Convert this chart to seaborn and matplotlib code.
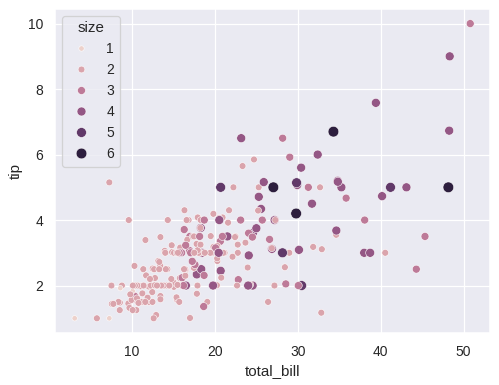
import numpy as np
import pandas as pd
import matplotlib
matplotlib.use("Agg")
import matplotlib.pyplot as plt
import seaborn as sns

# --- datos (tips) ---
total_bill = [
    16.99, 10.34, 21.01, 23.68, 24.59, 25.29, 8.77, 26.88, 15.04, 14.78,
    10.27, 35.26, 15.42, 18.43, 14.83, 21.58, 10.33, 16.29, 16.97, 20.65,
    17.92, 20.29, 15.77, 39.42, 19.82, 17.81, 13.37, 12.69, 21.70, 19.65,
    9.55, 18.35, 15.06, 20.69, 17.78, 24.06, 16.31, 16.93, 18.69, 31.27,
    16.04, 17.46, 13.94, 9.68, 30.40, 18.29, 22.23, 32.40, 28.55, 18.04,
    12.54, 10.29, 34.81, 9.94, 25.56, 19.49, 38.01, 26.41, 11.24, 48.27,
    20.29, 13.81, 11.02, 18.29, 17.59, 20.08, 16.45, 3.07, 20.23, 15.01,
    12.02, 17.07, 26.86, 25.28, 14.73, 10.51, 17.92, 27.20, 22.76, 17.29,
    19.44, 16.66, 10.07, 32.68, 15.98, 34.83, 13.03, 18.28, 24.71, 21.16,
    28.97, 22.49, 5.75, 16.32, 22.75, 40.17, 27.28, 12.03, 21.01, 12.46,
    11.35, 15.38, 44.30, 22.42, 20.92, 15.36, 20.49, 25.21, 18.24, 14.31,
    14.00, 7.25, 38.07, 23.95, 25.71, 17.31, 29.93, 10.65, 12.43, 24.08,
    11.69, 13.42, 14.26, 15.95, 12.48, 29.80, 8.52, 14.52, 11.38, 22.82,
    19.08, 20.27, 11.17, 12.26, 18.26, 8.51, 10.33, 14.15, 16.00, 13.16,
    17.47, 34.30, 41.19, 27.05, 16.43, 8.35, 18.64, 11.87, 9.78, 7.51,
    14.07, 13.13, 17.26, 24.55, 19.77, 29.85, 48.17, 25.00, 13.39, 16.49,
    21.50, 12.66, 16.21, 13.81, 17.51, 24.52, 20.76, 31.71, 10.59, 10.63,
    50.81, 15.81, 7.25, 31.85, 16.82, 32.90, 17.89, 14.48, 9.60, 34.63,
    34.65, 23.33, 45.35, 23.17, 40.55, 20.69, 20.90, 30.46, 18.15, 23.10,
    15.69, 19.81, 28.44, 15.48, 16.58, 7.56, 10.34, 43.11, 13.00, 13.51,
    18.71, 12.74, 13.00, 16.40, 20.53, 16.47, 26.59, 38.73, 24.27, 12.76,
    30.06, 25.89, 48.33, 13.27, 28.17, 12.90, 28.15, 11.59, 7.74, 30.14,
    12.16, 13.42, 8.58, 15.98, 13.42, 16.27, 10.09, 20.45, 13.28, 22.12,
    24.01, 15.69, 11.61, 10.77, 15.53, 10.07, 12.60, 32.83, 35.83, 29.03,
    27.18, 22.67, 17.82, 18.78,
]

tip = [
    1.01, 1.66, 3.50, 3.31, 3.61, 4.71, 2.00, 3.12, 1.96, 3.23,
    1.71, 5.00, 1.57, 3.00, 3.02, 3.92, 1.67, 3.71, 3.50, 3.35,
    4.08, 2.75, 2.23, 7.58, 3.18, 2.34, 2.00, 2.00, 4.30, 3.00,
    1.45, 2.50, 3.00, 2.45, 3.27, 3.60, 2.00, 3.07, 2.31, 5.00,
    2.24, 2.54, 3.06, 1.32, 5.60, 3.00, 5.00, 6.00, 2.05, 3.00,
    2.50, 2.60, 5.20, 1.56, 4.34, 3.51, 3.00, 1.50, 1.76, 6.73,
    3.21, 2.00, 1.98, 3.76, 2.64, 3.15, 2.47, 1.00, 2.01, 2.09,
    1.97, 3.00, 3.14, 5.00, 2.20, 1.25, 3.08, 4.00, 3.00, 2.71,
    3.00, 3.40, 1.83, 5.00, 2.03, 5.17, 2.00, 4.00, 5.85, 3.00,
    3.00, 3.50, 1.00, 4.30, 3.25, 4.73, 4.00, 1.50, 3.00, 1.50,
    2.50, 3.00, 2.50, 3.48, 4.08, 1.64, 4.06, 4.29, 3.76, 4.00,
    3.00, 1.00, 4.00, 2.55, 4.00, 3.50, 5.07, 1.50, 1.80, 2.92,
    2.31, 1.68, 2.50, 2.00, 2.52, 4.20, 1.48, 2.00, 2.00, 2.18,
    1.50, 2.83, 1.50, 2.00, 3.25, 1.25, 2.00, 2.00, 2.00, 2.75,
    3.50, 6.70, 5.00, 5.00, 2.30, 1.50, 1.36, 1.63, 1.73, 2.00,
    2.50, 2.00, 2.74, 2.00, 2.00, 5.14, 5.00, 3.75, 2.61, 2.00,
    3.50, 2.50, 2.00, 2.00, 3.00, 3.48, 2.24, 4.50, 1.61, 2.00,
    10.00, 3.16, 5.15, 3.18, 4.00, 3.11, 2.00, 2.00, 4.00, 3.55,
    3.68, 5.65, 3.50, 6.50, 3.00, 5.00, 3.50, 2.00, 3.50, 4.00,
    1.50, 4.19, 2.56, 2.02, 4.00, 1.44, 2.00, 5.00, 2.00, 2.00,
    4.00, 2.01, 2.00, 2.50, 4.00, 3.23, 3.41, 3.00, 2.03, 2.23,
    2.00, 5.16, 9.00, 2.50, 6.50, 1.10, 3.00, 1.50, 1.44, 3.09,
    2.20, 3.48, 1.92, 3.00, 1.58, 2.50, 2.00, 3.00, 2.72, 2.88,
    2.00, 3.00, 3.39, 1.47, 3.00, 1.25, 1.00, 1.17, 4.67, 5.92,
    2.00, 2.00, 1.75, 3.00,
]

size = [
    2, 3, 3, 2, 4, 4, 2, 4, 2, 2,
    2, 4, 2, 4, 2, 2, 3, 3, 3, 3,
    2, 2, 2, 4, 2, 4, 2, 2, 2, 2,
    2, 4, 2, 4, 2, 3, 3, 3, 3, 3,
    3, 2, 2, 2, 4, 2, 2, 4, 3, 2,
    2, 2, 4, 2, 4, 2, 4, 2, 2, 4,
    2, 2, 2, 4, 3, 3, 2, 1, 2, 2,
    2, 3, 2, 2, 2, 2, 2, 4, 2, 2,
    2, 2, 1, 2, 2, 4, 2, 2, 2, 2,
    2, 2, 2, 2, 2, 4, 2, 2, 2, 2,
    2, 2, 3, 2, 2, 2, 2, 2, 2, 2,
    2, 1, 3, 2, 3, 2, 4, 2, 2, 4,
    2, 2, 2, 2, 2, 6, 2, 2, 2, 3,
    2, 2, 2, 2, 2, 2, 2, 2, 2, 2,
    2, 6, 5, 6, 2, 2, 3, 2, 2, 2,
    2, 2, 3, 4, 4, 5, 6, 4, 2, 4,
    4, 2, 3, 2, 2, 3, 2, 4, 2, 2,
    3, 2, 2, 2, 2, 2, 2, 2, 2, 2,
    4, 2, 3, 4, 2, 5, 3, 5, 3, 3,
    2, 2, 2, 2, 2, 2, 2, 4, 2, 2,
    3, 2, 2, 2, 4, 3, 3, 4, 2, 2,
    3, 4, 4, 2, 3, 2, 5, 2, 2, 4,
    2, 2, 1, 3, 2, 2, 2, 4, 2, 2,
    4, 3, 2, 2, 2, 2, 2, 2, 3, 3,
    2, 2, 2, 2,
]

df = pd.DataFrame({"total_bill": total_bill, "tip": tip, "size": size})

sns.set_theme()
plt.rcParams["font.family"] = ["Liberation Sans", "DejaVu Sans"]

# la referencia parece renderizada a ~91 dpi
DPI = 91
fig, ax = plt.subplots(figsize=(499 / DPI, 385 / DPI), dpi=DPI)
sns.scatterplot(data=df, x="total_bill", y="tip", hue="size", size="size", ax=ax)
sns.move_legend(ax, "upper left")

fig.subplots_adjust(left=0.110, right=0.982, top=0.977, bottom=0.135)
fig.savefig("out.png", dpi=DPI)
